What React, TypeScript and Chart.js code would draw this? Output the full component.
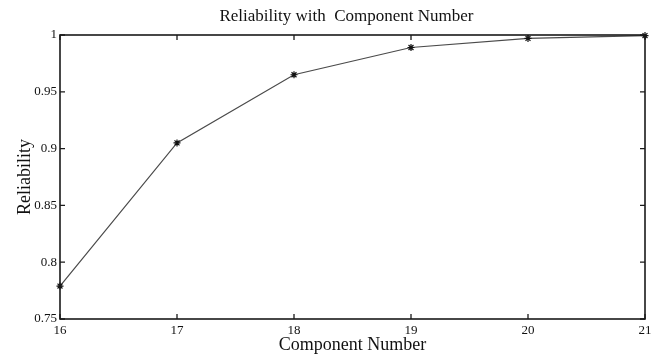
import React, { useEffect, useRef } from "react";
import { Chart, registerables } from "chart.js";

Chart.register(...registerables);

const componentNumbers = [16, 17, 18, 19, 20, 21];
const reliability = [0.779, 0.905, 0.965, 0.989, 0.997, 0.9995];
const xTicks = [16, 17, 18, 19, 20, 21];
const yTicks = [0.75, 0.8, 0.85, 0.9, 0.95, 1];
const chartTitle = "Reliability with  Component Number";
const xTitle = "Component Number";
const yTitle = "Reliability";

const FONT = "'Liberation Serif', 'Times New Roman', serif";

const framePlugin = {
  id: "matlabFrame",
  afterDraw(chart: any) {
    const { ctx, chartArea, scales } = chart;
    const { left, right, top, bottom } = chartArea;
    ctx.save();
    ctx.strokeStyle = "#1a1a1a";
    ctx.lineWidth = 1.6;
    ctx.strokeRect(left, top, right - left, bottom - top);
    const tl = 5;
    ctx.lineWidth = 1.3;
    ctx.beginPath();
    for (const v of xTicks) {
      const x = scales.x.getPixelForValue(v);
      ctx.moveTo(x, bottom);
      ctx.lineTo(x, bottom - tl);
      ctx.moveTo(x, top);
      ctx.lineTo(x, top + tl);
    }
    for (const v of yTicks) {
      const y = scales.y.getPixelForValue(v);
      ctx.moveTo(left, y);
      ctx.lineTo(left + tl, y);
      ctx.moveTo(right, y);
      ctx.lineTo(right - tl, y);
    }
    ctx.stroke();
    ctx.fillStyle = "#111";
    ctx.font = `17px ${FONT}`;
    ctx.textAlign = "center";
    ctx.textBaseline = "middle";
    ctx.fillText(chartTitle, (left + right) / 2 - 6, 17);
    ctx.restore();
  },
};

export default function App() {
  const ref = useRef<HTMLCanvasElement | null>(null);
  useEffect(() => {
    if (!ref.current) return;
    const chart = new Chart(ref.current, {
      type: "line",
      data: {
        datasets: [
          {
            data: componentNumbers.map((c, i) => ({ x: c, y: reliability[i] })),
            borderColor: "#4a4a4a",
            borderWidth: 1.2,
            pointStyle: "star",
            pointRadius: 3.5,
            pointBorderColor: "#111",
            pointBackgroundColor: "#111",
            pointBorderWidth: 1.2,
            tension: 0,
            clip: false as any,
          },
        ],
      },
      options: {
        animation: false,
        responsive: false,
        layout: { padding: { left: 0, right: 16, top: 35, bottom: 0 } },
        plugins: {
          legend: { display: false },
          tooltip: { enabled: false },
          title: { display: false },
        },
        scales: {
          x: {
            type: "linear",
            min: 16,
            max: 21,
            afterFit: (s: any) => {
              s.height = 35;
            },
            afterBuildTicks: (s: any) => {
              s.ticks = xTicks.map((v) => ({ value: v }));
            },
            grid: { display: false, drawTicks: false },
            border: { display: false },
            ticks: {
              color: "#111",
              font: { family: FONT, size: 13 },
              padding: 4,
              maxRotation: 0,
              autoSkip: false,
            },
            title: {
              display: true,
              text: xTitle,
              color: "#111",
              font: { family: FONT, size: 18, lineHeight: 1 },
              padding: { top: 0, bottom: 0 },
            },
          },
          y: {
            type: "linear",
            min: 0.75,
            max: 1,
            afterFit: (s: any) => {
              s.width = 60;
            },
            afterBuildTicks: (s: any) => {
              s.ticks = yTicks.map((v) => ({ value: v }));
            },
            grid: { display: false, drawTicks: false },
            border: { display: false },
            ticks: {
              color: "#111",
              font: { family: FONT, size: 13 },
              padding: 3,
              autoSkip: false,
              callback: (v: any) => String(Number(v)),
            },
            title: {
              display: true,
              text: yTitle,
              color: "#111",
              font: { family: FONT, size: 18, lineHeight: 1 },
              padding: { top: 16, bottom: 0 },
            },
          },
        },
      },
      plugins: [framePlugin],
    });
    return () => chart.destroy();
  }, []);
  return (
    <div style={{ position: "absolute", left: 0, top: 0, width: 661, height: 354, background: "#fff" }}>
      <canvas ref={ref} width={661} height={354} style={{ display: "block" }} />
    </div>
  );
}
